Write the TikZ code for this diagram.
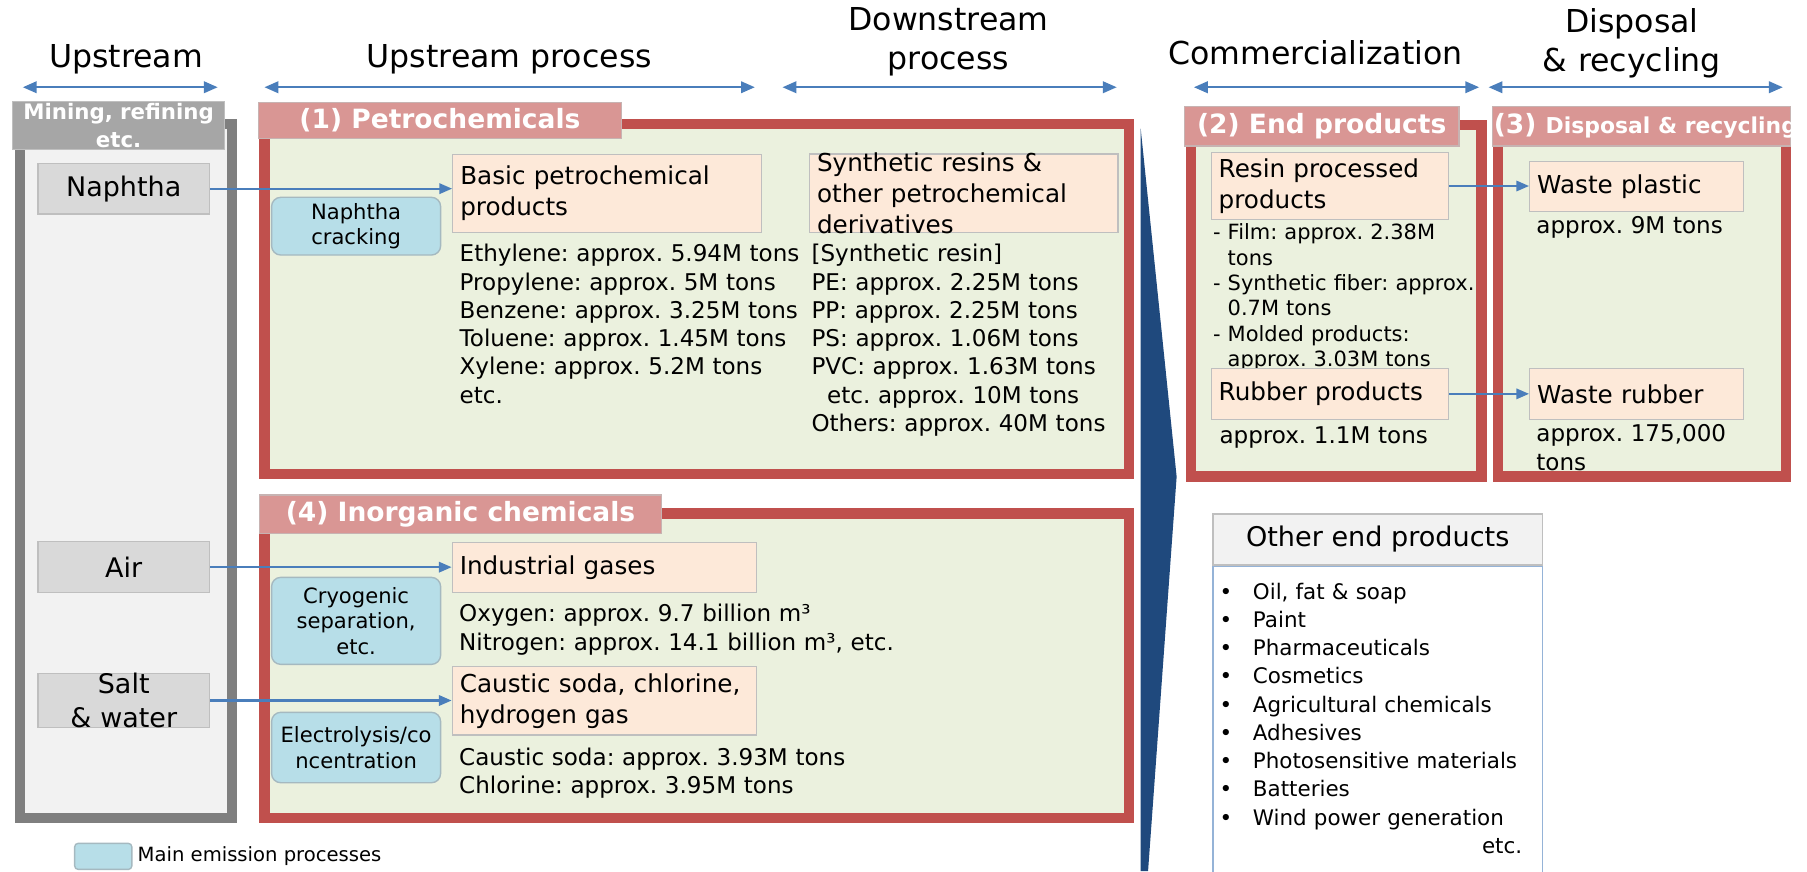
\documentclass[tikz,border=0pt]{standalone}
\usepackage{fontspec}
\setmainfont{DejaVu Sans}
\usepackage{xcolor}
\usetikzlibrary{arrows.meta,positioning,calc}
\frenchspacing

\definecolor{arrowblue}{HTML}{4A7EBB}
\definecolor{framered}{HTML}{C0504D}
\definecolor{titlepink}{HTML}{D99694}
\definecolor{sectgreen}{HTML}{EBF1DE}
\definecolor{peach}{HTML}{FDE9D9}
\definecolor{boxgray}{HTML}{BFBFBF}
\definecolor{emitblue}{HTML}{B7DEE8}
\definecolor{emitedge}{HTML}{A5B9C0}
\definecolor{srcgray}{HTML}{D9D9D9}
\definecolor{colgray}{HTML}{7F7F7F}
\definecolor{colfill}{HTML}{F2F2F2}
\definecolor{minegray}{HTML}{A6A6A6}
\definecolor{wedgeblue}{HTML}{1F497D}
\definecolor{listedge}{HTML}{95B3D7}

\newcommand\fHead{\fontsize{27.4}{34}\selectfont}
\newcommand\fTitle{\fontsize{23}{28}\selectfont\bfseries}
\newcommand\fBox{\fontsize{21.4}{26.7}\selectfont}
\newcommand\fData{\fontsize{20}{24.5}\selectfont}
\newcommand\fSrc{\fontsize{23.4}{28.8}\selectfont}
\newcommand\fProc{\fontsize{18.3}{22.3}\selectfont}
\newcommand\fNote{\fontsize{18.2}{22}\selectfont}
\newcommand\fList{\fontsize{18.6}{24.5}\selectfont}
\newcommand\fOther{\fontsize{23.5}{28}\selectfont}
\newcommand\fLegend{\fontsize{17}{21}\selectfont}
\newcommand\fMine{\fontsize{18.5}{24.7}\selectfont\bfseries}
\newcommand\itembul{\makebox[29pt][l]{•}}

\tikzset{
  spanarrow/.style={{Triangle[length=12pt,width=10pt]}-{Triangle[length=12pt,width=10pt]},
                    line width=1.8pt, arrowblue},
  feed/.style={-{Triangle[length=11pt,width=9pt]}, line width=1.8pt, arrowblue},
  stagehead/.style={font=\fHead, inner sep=0pt},
  colframe/.style={rectangle, draw=colgray, line width=9pt, fill=colfill, inner sep=0pt},
  minehead/.style={rectangle, draw=boxgray, line width=1pt, fill=minegray,
                   font=\fMine, text=white, align=center, text width=180pt, inner sep=0pt},
  sectframe/.style={rectangle, draw=framered, line width=9pt, fill=sectgreen, inner sep=0pt},
  secttitle/.style={rectangle, fill=titlepink, draw=boxgray!70!titlepink, line width=1pt,
                    font=\fTitle, text=white, inner sep=0pt},
  prodbox/.style={rectangle, fill=peach, draw=boxgray, line width=1.2pt,
                  font=\fBox, align=left, inner xsep=6.5pt, inner ysep=0pt},
  boxtext/.style={font=\fBox, align=left, inner sep=0pt},
  emitbox/.style={rectangle, rounded corners=8pt, fill=emitblue, draw=emitedge,
                  line width=1.2pt, font=\fProc, align=center, inner sep=0pt},
  srcbox/.style={rectangle, fill=srcgray, draw=boxgray, line width=1.2pt,
                 font=\fSrc, align=center, inner sep=0pt},
  datatext/.style={font=\fData, align=left, anchor=base west, inner sep=0pt},
  notetext/.style={font=\fNote, align=left, anchor=base west, inner sep=0pt},
  otherhead/.style={rectangle, fill=colfill, draw=boxgray, line width=1.2pt,
                    font=\fOther, inner sep=0pt},
  listbox/.style={rectangle, draw=listedge, line width=1.2pt, fill=white, inner sep=0pt},
  listtext/.style={font=\fList, align=left, anchor=base west, inner sep=0pt},
  legendtext/.style={font=\fLegend, inner sep=0pt},
}

\begin{document}
\begin{tikzpicture}[x=1pt, y=-1pt]
\useasboundingbox (0,0) rectangle (1568,756);

% ── Stage headings with span arrows ────────────────────────
\node[stagehead, anchor=base] (h@up) at (109.4,58.8) {Upstream};
\node[stagehead, anchor=base] (h@upproc) at (442,58.8) {Upstream process};
\node[stagehead, anchor=base, text width=240pt, align=center] (h@down) at (823,26.2)
      {Downstream\\process};
\node[stagehead, anchor=base] (h@comm) at (1141.5,55.9) {Commercialization};
\node[stagehead, anchor=base, text width=240pt, align=center] (h@disp) at (1416,28.4)
      {Disposal\\\& recycling};
\foreach \nm/\xa/\xb in {up/19.8/188.9, upproc/229.5/655, down/679/969,
                         comm/1036/1283.5, disp/1291.7/1547} {
  \coordinate (\nm@l) at (\xa,75.7);
  \coordinate (\nm@r) at (\xb,75.7);
  \draw[spanarrow] (\nm@l) -- (\nm@r);
}

% ── Upstream column: mining, refining ──────────────────────
\node[colframe, minimum width=184.4pt, minimum height=602.5pt] (srccol) at (109.3,408.75) {};
\node[minehead, minimum width=184.2pt, minimum height=41.6pt] (minehead) at (102.9,108.8)
      {Mining, refining\\etc.};
\node[srcbox, minimum width=148.7pt, minimum height=44pt] (naphtha) at (107.35,163.7) {Naphtha};
\node[srcbox, minimum width=148.7pt, minimum height=44.3pt] (air) at (107.35,492.15) {Air};
\node[srcbox, minimum width=148.7pt, minimum height=44.3pt, text width=140pt] (salt)
      at (107.35,607.85) {Salt\\\& water};

% ── (1) Petrochemicals ─────────────────────────────────────
\node[sectframe, minimum width=750pt, minimum height=304pt] (petro) at (604.5,259.5) {};
\node[secttitle, minimum width=314.5pt, minimum height=31pt] (petro@title) at (381.75,104.5)
      {(1) Petrochemicals};
\node[emitbox, minimum width=146.7pt, minimum height=50.1pt, text width=140pt] (crack)
      at (309,196.25) {Naphtha\\cracking};
\node[prodbox, minimum width=268.1pt, minimum height=67.6pt, text width=255.1pt] (basic)
      at (526.95,167.8) {Basic petrochemical\\products};
\node[prodbox, minimum width=267.5pt, minimum height=68pt] (synres) at (836.25,167.6) {};
\node[boxtext, text width=254.5pt] (synres@txt) at (synres.center)
      {Synthetic resins \&\\other petrochemical\\derivatives};
\node[datatext, text width=320pt] (basic@data) at (398.7,227.3)
      {Ethylene: approx. 5.94M tons\\Propylene: approx. 5M tons\\
       Benzene: approx. 3.25M tons\\Toluene: approx. 1.45M tons\\
       Xylene: approx. 5.2M tons\\etc.};
\node[datatext, text width=280pt] (synres@data) at (704,227.3)
      {[Synthetic resin]\\PE: approx. 2.25M tons\\PP: approx. 2.25M tons\\
       PS: approx. 1.06M tons\\PVC: approx. 1.63M tons\\
       \hspace*{13.6pt}etc. approx. 10M tons\\Others: approx. 40M tons};

% ── (4) Inorganic chemicals ────────────────────────────────
\node[sectframe, minimum width=750pt, minimum height=264.5pt] (inorg) at (604.5,577.75) {};
\node[secttitle, minimum width=349.4pt, minimum height=33.3pt] (inorg@title) at (399.6,446.15)
      {(4) Inorganic chemicals};
\node[emitbox, minimum width=146.7pt, minimum height=75.5pt, text width=140pt] (cryo)
      at (309,538.75) {Cryogenic\\separation,\\etc.};
\node[emitbox, minimum width=146.7pt, minimum height=61.1pt, text width=140pt] (elec)
      at (309,648.65) {Electrolysis/co\\ncentration};
\node[prodbox, minimum width=263.8pt, minimum height=43.4pt, text width=250.8pt] (indgas)
      at (524.4,492.6) {Industrial gases};
\node[datatext, text width=400pt] (indgas@data) at (398.3,539.7)
      {Oxygen: approx. 9.7 billion m³\\Nitrogen: approx. 14.1 billion m³, etc.};
\node[prodbox, minimum width=263.8pt, minimum height=59.3pt, text width=250.8pt] (caustic)
      at (524.4,608.15) {Caustic soda, chlorine,\\hydrogen gas};
\node[datatext, text width=340pt] (caustic@data) at (398.3,664)
      {Caustic soda: approx. 3.93M tons\\Chlorine: approx. 3.95M tons};

% ── Chevron between process and commercialization ─────────
\fill[wedgeblue] (989.8,111.4) -- (1021,413.6) -- (996.2,756) -- (989.8,756) -- cycle;

% ── (2) End products ───────────────────────────────────────
\node[sectframe, minimum width=252pt, minimum height=305pt] (endprod) at (1159.5,261) {};
\node[secttitle, minimum width=238.2pt, minimum height=34.1pt] (endprod@title)
      at (1146.9,109.65) {(2) End products};
\node[prodbox, minimum width=206pt, minimum height=57.8pt, text width=193pt] (resin)
      at (1154,161.4) {Resin processed\\products};
\node[notetext, text width=240pt] (resin@notes) at (1052.5,208)
      {- Film: approx. 2.38M\\\phantom{- }tons\\- Synthetic fiber: approx.\\
       \phantom{- }0.7M tons\\- Molded products:\\\phantom{- }approx. 3.03M tons};
\node[prodbox, minimum width=206pt, minimum height=44.3pt, text width=193pt] (rubber)
      at (1154,341.75) {Rubber products};
\node[datatext, text width=200pt] (rubber@data) at (1058,385) {approx. 1.1M tons};

% ── (3) Disposal & recycling ───────────────────────────────
\node[sectframe, minimum width=249.6pt, minimum height=305pt] (disp) at (1424.7,261) {};
\node[secttitle, minimum width=259pt, minimum height=34.1pt] (disp@title) at (1424.5,109.65) {};
\begin{scope}
  \clip (disp@title.north west) rectangle (disp@title.south east);
  \node[font=\fTitle, text=white, inner sep=0pt, anchor=base west] (disp@titletxt)
        at (1296,116) {(3) {\fontsize{19}{24}\selectfont Disposal \& recycling}};
\end{scope}
\node[prodbox, minimum width=185.6pt, minimum height=43.4pt, text width=172.6pt] (wplastic)
      at (1420.2,161.7) {Waste plastic};
\node[datatext, text width=200pt] (wplastic@data) at (1333,202.7) {approx. 9M tons};
\node[prodbox, minimum width=185.6pt, minimum height=44.3pt, text width=172.6pt] (wrubber)
      at (1420.2,341.75) {Waste rubber};
\node[datatext, text width=200pt] (wrubber@data) at (1333,383.5) {approx. 175,000\\tons};

% ── Other end products ─────────────────────────────────────
\node[otherhead, minimum width=286pt, minimum height=44.3pt] (other) at (1195.5,468.15)
      {Other end products};
\node[listbox, anchor=north, minimum width=286pt, minimum height=280pt] (otherlist)
      at (other.south) {};
\node[listtext, text width=262.7pt] (otherlist@txt) at (1058,519.9)
      {\itembul Oil, fat \& soap\\\itembul Paint\\\itembul Pharmaceuticals\\
       \itembul Cosmetics\\\itembul Agricultural chemicals\\\itembul Adhesives\\
       \itembul Photosensitive materials\\\itembul Batteries\\
       \itembul Wind power generation\\\hspace*{\fill}etc.};

% ── Legend ─────────────────────────────────────────────────
\node[emitbox, rounded corners=3pt, minimum width=49.6pt, minimum height=22.6pt] (legend@key)
      at (89.6,743.1) {};
\node[legendtext, right=4.3pt of legend@key] (legend@txt) {Main emission processes};

% ── Material flows ─────────────────────────────────────────
\draw[feed] (naphtha.east) -- (naphtha.east -| basic.west);
\draw[feed] (air.east) -- (air.east -| indgas.west);
\draw[feed] (salt.east) -- (salt.east -| caustic.west);
\draw[feed] (resin.east) -- (resin.east -| wplastic.west);
\draw[feed] (rubber.east) -- (rubber.east -| wrubber.west);

\end{tikzpicture}
\end{document}
